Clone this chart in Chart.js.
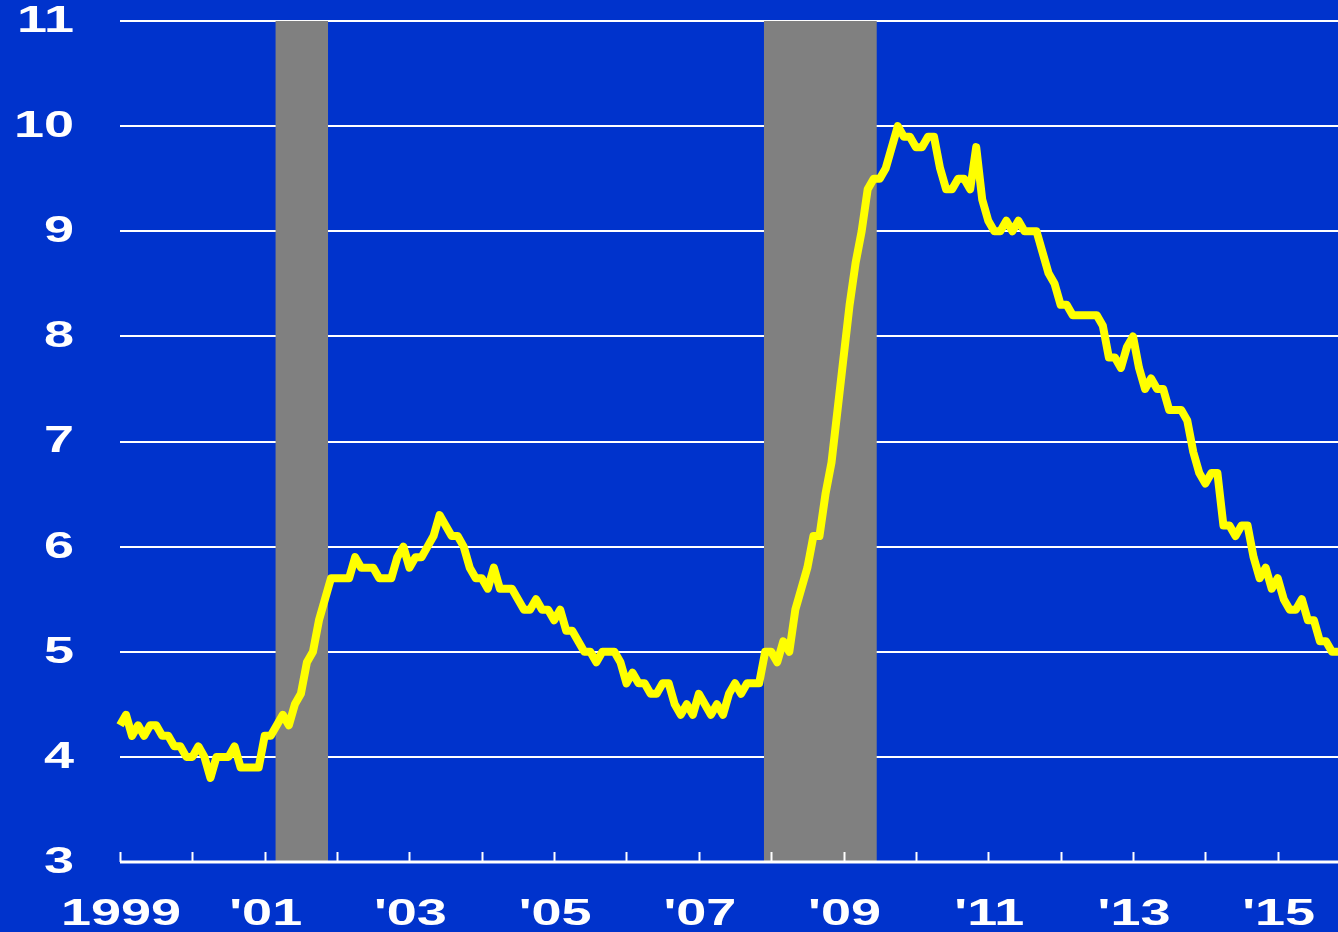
<!DOCTYPE html>
<html>
<head>
<meta charset="utf-8">
<script src="https://cdn.jsdelivr.net/npm/chart.js@4/dist/chart.umd.min.js"></script>
<style>
  html, body { margin: 0; padding: 0; background: #0033CC; }
  #wrap { width: 1338px; height: 932px; }
</style>
</head>
<body>
<div id="wrap"><canvas id="chart"></canvas></div>
<script>
// unemployment rate, monthly, Jan 1999 .. Nov 2015 (one row per year)
const startYear = 1999;
const rate = [
  4.3, 4.4, 4.2, 4.3, 4.2, 4.3, 4.3, 4.2, 4.2, 4.1, 4.1, 4.0,
  4.0, 4.1, 4.0, 3.8, 4.0, 4.0, 4.0, 4.1, 3.9, 3.9, 3.9, 3.9,
  4.2, 4.2, 4.3, 4.4, 4.3, 4.5, 4.6, 4.9, 5.0, 5.3, 5.5, 5.7,
  5.7, 5.7, 5.7, 5.9, 5.8, 5.8, 5.8, 5.7, 5.7, 5.7, 5.9, 6.0,
  5.8, 5.9, 5.9, 6.0, 6.1, 6.3, 6.2, 6.1, 6.1, 6.0, 5.8, 5.7,
  5.7, 5.6, 5.8, 5.6, 5.6, 5.6, 5.5, 5.4, 5.4, 5.5, 5.4, 5.4,
  5.3, 5.4, 5.2, 5.2, 5.1, 5.0, 5.0, 4.9, 5.0, 5.0, 5.0, 4.9,
  4.7, 4.8, 4.7, 4.7, 4.6, 4.6, 4.7, 4.7, 4.5, 4.4, 4.5, 4.4,
  4.6, 4.5, 4.4, 4.5, 4.4, 4.6, 4.7, 4.6, 4.7, 4.7, 4.7, 5.0,
  5.0, 4.9, 5.1, 5.0, 5.4, 5.6, 5.8, 6.1, 6.1, 6.5, 6.8, 7.3,
  7.8, 8.3, 8.7, 9.0, 9.4, 9.5, 9.5, 9.6, 9.8, 10.0, 9.9, 9.9,
  9.8, 9.8, 9.9, 9.9, 9.6, 9.4, 9.4, 9.5, 9.5, 9.4, 9.8, 9.3,
  9.1, 9.0, 9.0, 9.1, 9.0, 9.1, 9.0, 9.0, 9.0, 8.8, 8.6, 8.5,
  8.3, 8.3, 8.2, 8.2, 8.2, 8.2, 8.2, 8.1, 7.8, 7.8, 7.7, 7.9,
  8.0, 7.7, 7.5, 7.6, 7.5, 7.5, 7.3, 7.3, 7.3, 7.2, 6.9, 6.7,
  6.6, 6.7, 6.7, 6.2, 6.2, 6.1, 6.2, 6.2, 5.9, 5.7, 5.8, 5.6,
  5.7, 5.5, 5.4, 5.4, 5.5, 5.3, 5.3, 5.1, 5.1, 5.0, 5.0
];

// year labels shown under every other January
const xTickLabels = ['1999', "'01", "'03", "'05", "'07", "'09", "'11", "'13", "'15"];
const yTicks = [3, 4, 5, 6, 7, 8, 9, 10, 11];

// recessions as [first month, last month] month labels
const recessions = [['2001-03', '2001-11'], ['2007-12', '2009-06']];

const months = rate.map((v, i) => {
  const y = startYear + Math.floor(i / 12);
  const m = (i % 12) + 1;
  return y + '-' + String(m).padStart(2, '0');
});

const BG = '#0033CC';
const FONT = 'bold 36px "Liberation Sans", Arial, sans-serif';
const STRETCH = 1.5;

const decorPlugin = {
  id: 'decor',
  beforeDraw(chart) {
    const ctx = chart.ctx;
    ctx.save();
    ctx.fillStyle = BG;
    ctx.fillRect(0, 0, chart.width, chart.height);
    ctx.restore();
  },
  beforeDatasetsDraw(chart) {
    const { ctx, chartArea, scales } = chart;
    const x = scales.x;
    ctx.save();
    // recession shading
    ctx.fillStyle = '#808080';
    recessions.forEach(([a, b]) => {
      const x0 = x.getPixelForValue(months.indexOf(a) - 0.2);
      const x1 = x.getPixelForValue(months.indexOf(b) + 0.5);
      ctx.fillRect(x0, chartArea.top, x1 - x0, chartArea.bottom - chartArea.top);
    });
    // x axis line and yearly ticks (pointing up)
    ctx.strokeStyle = '#ffffff';
    ctx.lineWidth = 3;
    ctx.beginPath();
    ctx.moveTo(chartArea.left, chartArea.bottom);
    ctx.lineTo(chartArea.right, chartArea.bottom);
    ctx.stroke();
    ctx.lineWidth = 2;
    for (let i = 0; i < months.length; i += 12) {
      const px = Math.round(x.getPixelForValue(i)) + 0.5;
      ctx.beginPath();
      ctx.moveTo(px, chartArea.bottom);
      ctx.lineTo(px, chartArea.bottom - 10);
      ctx.stroke();
    }
    ctx.restore();
  },
  afterDraw(chart) {
    const { ctx, scales } = chart;
    ctx.save();
    ctx.fillStyle = '#ffffff';
    ctx.font = FONT;
    ctx.textBaseline = 'middle';
    // y labels
    ctx.textAlign = 'right';
    yTicks.forEach(v => {
      ctx.save();
      ctx.translate(74, scales.y.getPixelForValue(v) + 1);
      ctx.scale(STRETCH, 1);
      ctx.fillText(String(v), 0, 0);
      ctx.restore();
    });
    // x labels, every second January
    ctx.textAlign = 'center';
    xTickLabels.forEach((lab, k) => {
      ctx.save();
      ctx.translate(scales.x.getPixelForValue(k * 24) + 1, 915);
      ctx.scale(STRETCH, 1);
      ctx.fillText(lab, 0, 0);
      ctx.restore();
    });
    ctx.restore();
  }
};

new Chart(document.getElementById('chart'), {
  type: 'line',
  data: {
    labels: months,
    datasets: [{
      data: rate,
      borderColor: '#FFFF00',
      borderWidth: 8,
      borderJoinStyle: 'round',
      pointRadius: 0,
      tension: 0,
      fill: false
    }]
  },
  options: {
    responsive: true,
    maintainAspectRatio: false,
    animation: false,
    layout: { padding: { left: 120, top: 21, right: 0, bottom: 62 } },
    plugins: {
      legend: { display: false },
      tooltip: { enabled: false }
    },
    scales: {
      x: {
        type: 'category',
        offset: false,
        grid: { display: false },
        border: { display: false },
        ticks: { display: false }
      },
      y: {
        min: 3,
        max: 11,
        ticks: { display: false, stepSize: 1 },
        grid: { color: '#ffffff', lineWidth: 2, drawTicks: false },
        border: { display: false }
      }
    }
  },
  plugins: [decorPlugin]
});
</script>
</body>
</html>
